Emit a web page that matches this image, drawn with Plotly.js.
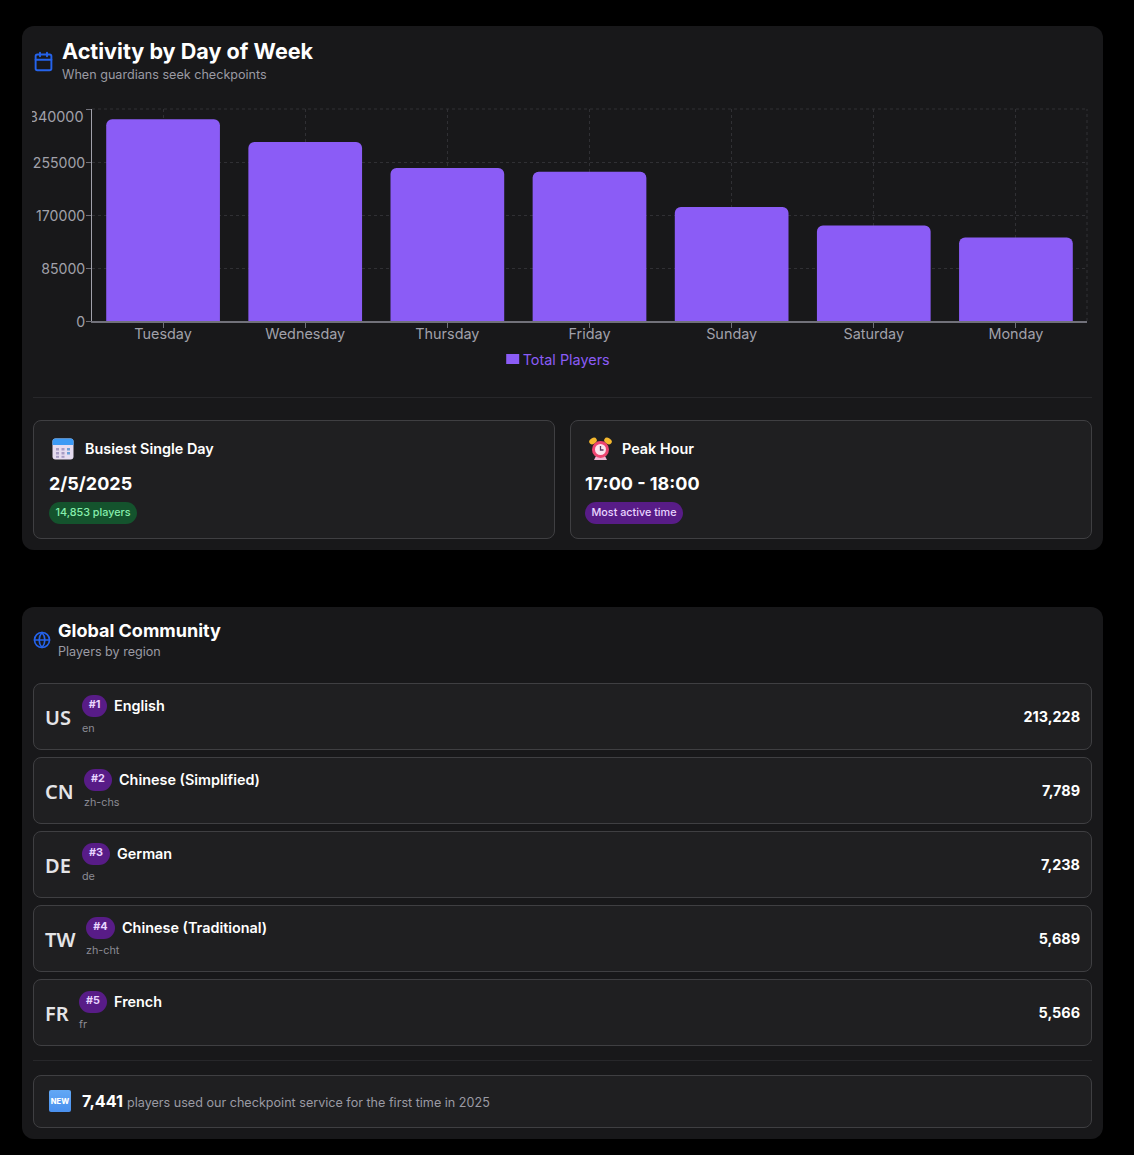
<!DOCTYPE html>
<html><head><meta charset="utf-8">
<script src="https://cdn.plot.ly/plotly-3.0.1.min.js"></script>
<style>
html,body{margin:0;padding:0;background:#000;width:1134px;height:1155px;overflow:hidden;font-family:Inter,sans-serif;color:#fff}
.abs{position:absolute}
.card{position:absolute;left:22px;width:1081px;background:#18181a;border-radius:12px}
.inner{position:absolute;background:#1f1f21;border:1px solid #3f3f42;border-radius:8px;box-sizing:border-box}
.hr{position:absolute;left:33px;width:1059px;height:1px;background:#27272a}
.t{position:absolute;white-space:nowrap;line-height:1}
.pill{position:absolute;border-radius:11px;font-size:10.8px;font-weight:500;white-space:nowrap;display:flex;align-items:center;justify-content:center;box-sizing:border-box;padding-bottom:2px}
#chart{position:absolute;left:32px;top:100px;width:1060px;height:290px;overflow:hidden}
.code{position:absolute;left:11px;top:24px;font:600 20px/1 "Noto Sans",sans-serif;color:#e4e4e7}
.rank{position:absolute;top:11px;height:22px;background:#581c87;border-radius:11px;font-size:10.8px;font-weight:700;color:#e9d5ff;display:flex;align-items:center;justify-content:center;padding-bottom:4px;box-sizing:border-box}
.name{position:absolute;top:14px;font-size:14.4px;font-weight:600;color:#fff;white-space:nowrap;line-height:1.1}
.sub{position:absolute;top:39px;font-size:10.8px;color:#8b8b94;line-height:1.1;white-space:nowrap}
.val{position:absolute;right:11px;top:25px;font-size:14.4px;font-weight:700;color:#fff;line-height:1.1}
</style></head><body>
<div class="card" style="top:26px;height:524px"></div>
<div class="card" style="top:607px;height:532px"></div>

<svg class="abs" style="left:33px;top:51px" width="21" height="21" viewBox="0 0 24 24" fill="none" stroke="#2563eb" stroke-width="2.2" stroke-linecap="round" stroke-linejoin="round"><rect x="3" y="4" width="18" height="18" rx="2"/><path d="M16 2v4M8 2v4M3 10h18"/></svg>
<div class="t" style="left:62px;top:41px;font-size:21.6px;font-weight:700">Activity by Day of Week</div>
<div class="t" style="left:62px;top:69px;font-size:12.6px;color:#9a9aa3">When guardians seek checkpoints</div>

<div id="chart"></div>
<div class="hr" style="top:397px"></div>

<div class="inner" style="left:33px;top:420px;width:522px;height:119px"></div>
<svg class="abs" style="left:52px;top:438px" width="23" height="22" viewBox="0 0 23 22"><rect x="0.5" y="0.5" width="21" height="21" rx="3" fill="#e6dcf0"/><path d="M0.5 7V3.5a3 3 0 0 1 3-3h15a3 3 0 0 1 3 3V7Z" fill="#3b9af5"/><g fill="#a79cc4"><rect x="4" y="10" width="3" height="2.5"/><rect x="9.5" y="10" width="3" height="2.5"/><rect x="15" y="10" width="3" height="2.5" fill="#6b9fd8"/><rect x="4" y="14" width="3" height="2.5"/><rect x="9.5" y="14" width="3" height="2.5"/><rect x="15" y="14" width="3" height="2.5" fill="#6b9fd8"/><rect x="9.5" y="17.8" width="3" height="2"/><rect x="4" y="17.8" width="3" height="2"/></g></svg>
<div class="t" style="left:85px;top:442px;font-size:14.4px;font-weight:600" id="busyLabel">Busiest Single Day</div>
<div class="t" style="left:49px;top:475px;font-size:18px;font-weight:700" id="busyDate">2/5/2025</div>
<div class="pill" style="left:49px;top:502px;width:88px;height:22px;background:#14532d;color:#86efac" id="busyCount">14,853 players</div>

<div class="inner" style="left:570px;top:420px;width:522px;height:119px"></div>
<svg class="abs" style="left:589px;top:437px" width="23" height="24" viewBox="0 0 23 24"><ellipse cx="4" cy="4" rx="4" ry="3" fill="#f5b82e" transform="rotate(-30 4 4)"/><ellipse cx="19" cy="4" rx="4" ry="3" fill="#f5b82e" transform="rotate(30 19 4)"/><path d="M5 23h13l-2-4H7Z" fill="#f0b6d4"/><circle cx="11.5" cy="12.5" r="8.5" fill="#ef4470"/><circle cx="11.5" cy="12.5" r="5.5" fill="#fbe4ee"/><path d="M11.5 9v4h3" stroke="#5b3a5e" stroke-width="1.3" fill="none"/></svg>
<div class="t" style="left:622px;top:442px;font-size:14.4px;font-weight:600" id="peakLabel">Peak Hour</div>
<div class="t" style="left:585px;top:475px;font-size:18px;font-weight:700" id="peakHour">17:00 - 18:00</div>
<div class="pill" style="left:585px;top:502px;width:98px;height:22px;background:#581c87;color:#e9d5ff" id="peakNote">Most active time</div>

<svg class="abs" style="left:33px;top:631px" width="18" height="18" viewBox="0 0 24 24" fill="none" stroke="#2563eb" stroke-width="2.2" stroke-linecap="round" stroke-linejoin="round"><circle cx="12" cy="12" r="10"/><path d="M2 12h20M12 2a15 15 0 0 1 0 20a15 15 0 0 1 0-20"/></svg>
<div class="t" style="left:58px;top:622px;font-size:18px;font-weight:700">Global Community</div>
<div class="t" style="left:58px;top:646px;font-size:12.6px;color:#9a9aa3">Players by region</div>

<div id="rows"></div>

<div class="hr" style="top:1060px"></div>
<div class="inner" style="left:33px;top:1075px;width:1059px;height:53px"></div>
<div class="abs" style="left:49px;top:1090px;width:22px;height:22px;border-radius:2px;background:linear-gradient(#62a8f5,#4a90ee);color:#fff;font-size:7.5px;font-weight:800;display:flex;align-items:center;justify-content:center">NEW</div>
<div class="t" style="left:82px;top:1093px;font-size:16.2px;font-weight:700" id="newCount">7,441</div>
<div class="t" style="left:127px;top:1097px;font-size:12.6px;color:#9a9aa3">players used our checkpoint service for the first time in 2025</div>

<script>
// Chart data
const days = ['Tuesday','Wednesday','Thursday','Friday','Sunday','Saturday','Monday'];
const totalPlayers = [323500,287000,245500,239500,183000,153000,134000];
const yTicks = [0,85000,170000,255000,340000];
const yTickText = ['0','85000','170000','255000',''];
const topTickLabel = '340000';
const seriesName = 'Total Players';

// Region table
const regionCodes = ['US','CN','DE','TW','FR'];
const regionNames = ['English','Chinese (Simplified)','German','Chinese (Traditional)','French'];
const regionLocales = ['en','zh-chs','de','zh-cht','fr'];
const regionPlayers = ['213,228','7,789','7,238','5,689','5,566'];
const rankLefts = [48,50,48,52,45];
const rankWidths = [25,28,28,29,28];
const nameLefts = [80,85,83,88,80];

const rows = document.getElementById('rows');
regionCodes.forEach((c,i)=>{
  const d = document.createElement('div');
  d.className='inner';
  d.style.cssText='left:33px;top:'+(683+74*i)+'px;width:1059px;height:67px';
  d.innerHTML='<div class="code">'+c+'</div>'+
    '<div class="rank" style="left:'+rankLefts[i]+'px;width:'+rankWidths[i]+'px">#'+(i+1)+'</div>'+
    '<div class="name" style="left:'+nameLefts[i]+'px">'+regionNames[i]+'</div>'+
    '<div class="sub" style="left:'+rankLefts[i]+'px">'+regionLocales[i]+'</div>'+
    '<div class="val">'+regionPlayers[i]+'</div>';
  rows.appendChild(d);
});

const grid = '#303034';
function fixLegend(){
  document.querySelectorAll('#chart .legend .legendpoints').forEach(g=>g.setAttribute('transform','translate(10,0)'));
  document.querySelectorAll('#chart .legend .legendpoints path').forEach(p=>{
    p.setAttribute('d','M6.5,5H-6.5V-5H6.5Z');
  });
}
Plotly.newPlot('chart',[{
  type:'bar',x:days,y:totalPlayers,name:seriesName,
  marker:{color:'#8b5cf6',line:{width:0}},showlegend:true,hoverinfo:'x+y'
}],{
  width:1060,height:290,
  margin:{l:60,r:5,t:9,b:69},
  paper_bgcolor:'rgba(0,0,0,0)',plot_bgcolor:'rgba(0,0,0,0)',
  bargap:0.2,barcornerradius:6,
  font:{family:'Inter, sans-serif',size:14.4,color:'#a1a1aa'},
  xaxis:{type:'category',showgrid:true,griddash:'3px,3px',gridcolor:grid,gridwidth:1,
    showline:true,linecolor:'#71717a',linewidth:2,ticks:'outside',ticklen:5,tickcolor:'#71717a',tickwidth:1,ticklabelstandoff:-6,
    tickfont:{size:14.4,color:'#a1a1aa'},zeroline:false,fixedrange:true},
  yaxis:{range:[0,340000],tickmode:'array',tickvals:yTicks,ticktext:yTickText,showgrid:true,griddash:'3px,3px',gridcolor:grid,gridwidth:1,
    showline:true,linecolor:'#a1a1aa',linewidth:1,ticks:'outside',ticklen:5,tickcolor:'#71717a',tickwidth:1,ticklabelstandoff:-2,ticklabelshift:1,
    tickfont:{size:14.1,color:'#a1a1aa'},zeroline:false,fixedrange:true},
  showlegend:true,
  legend:{orientation:'h',x:0.459,xanchor:'center',y:-0.105,yanchor:'top',font:{size:14.4,color:'#8b5cf6'},bgcolor:'rgba(0,0,0,0)',itemclick:false,itemdoubleclick:false},
  shapes:[
    {type:'line',xref:'paper',yref:'paper',x0:1,x1:1,y0:0,y1:1,line:{color:grid,width:1,dash:'3px,3px'},layer:'below'},
    {type:'line',xref:'paper',yref:'paper',x0:0,x1:1,y0:1,y1:1,line:{color:grid,width:1,dash:'3px,3px'},layer:'below'}
  ],
  annotations:[{xref:'paper',yref:'y',x:0,y:340000,yshift:-7,xshift:-6,xanchor:'right',yanchor:'middle',text:topTickLabel,showarrow:false,font:{size:14.4,color:'#a1a1aa'}}]
},{displayModeBar:false}).then(gd=>{fixLegend();gd.on('plotly_afterplot',fixLegend);});
</script>
</body></html>
